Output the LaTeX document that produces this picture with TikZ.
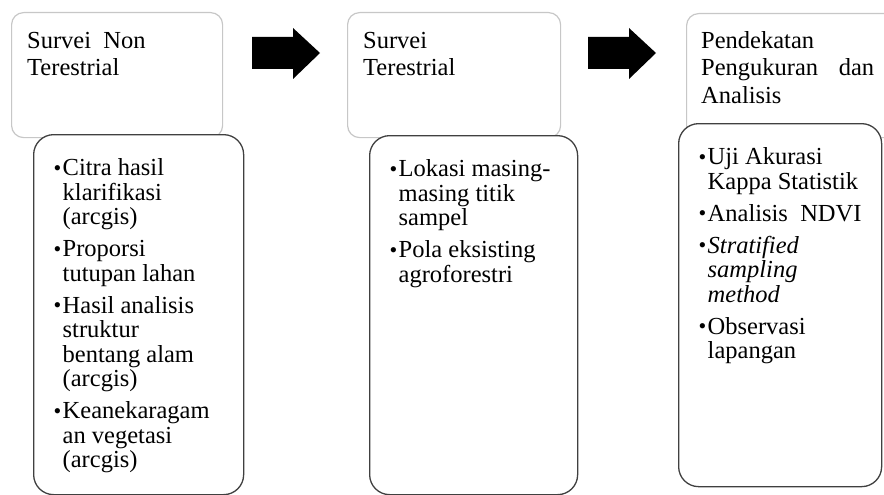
\documentclass[tikz,border=0pt]{standalone}
\usepackage{fontspec}
\setmainfont{Liberation Serif}
\usetikzlibrary{positioning}
\newcommand{\bul}{\makebox[7.5pt][l]{\hspace*{-1.5pt}\raisebox{0.5pt}{\fontsize{22}{22}\selectfont •}}}
\begin{document}
\begin{tikzpicture}[x=1pt,y=-1pt,
	topbox/.style={draw=black!22,line width=1.2pt,rounded corners=12pt,fill=white,inner sep=0pt,anchor=north west},
	subbox/.style={draw=black!75,line width=1.3pt,rounded corners=20pt,fill=white,inner sep=0pt,anchor=north west},
	headtxt/.style={inner sep=0pt,anchor=north west,font=\fontsize{24.5}{27.5}\selectfont},
	listtxt/.style={inner sep=0pt,anchor=north west,font=\fontsize{24.5}{24.5}\selectfont}]
	\clip (0,0) rectangle (884,495);
	% kotak atas
	\node[topbox,minimum width=211pt,minimum height=125pt] (nonter) at (11,12) {};
	\node[topbox,minimum width=213pt,minimum height=125pt] (ter) at (347,12) {};
	\node[topbox,minimum width=214pt,minimum height=124pt] (ukur) at (686,13) {};
	% panah
	\foreach \x in {252,588}
	\fill (\x,37) -- ++(41,0) -- ++(0,-9) -- ++(27,25) -- ++(-27,26) -- ++(0,-10) -- ++(-41,0) -- cycle;
	% kotak bawah
	\node[subbox,minimum width=210pt,minimum height=360pt] (nonterlist) at (33,134) {};
	\node[subbox,minimum width=208pt,minimum height=359pt] (terlist) at (369,135) {};
	\node[subbox,minimum width=203pt,minimum height=363pt] (ukurlist) at (678,123) {};
	% judul
	\node[headtxt] (nontertxt) at ([xshift=16pt,yshift=-16.75pt]nonter.north west) {\begin{tabular}{@{}l@{}}Survei\ \ Non\\Terestrial\end{tabular}};
	\node[headtxt] (tertxt) at ([xshift=16pt,yshift=-16.75pt]ter.north west) {\begin{tabular}{@{}l@{}}Survei\\Terestrial\end{tabular}};
	\node[headtxt] (ukurtxt) at ([xshift=15pt,yshift=-15.75pt]ukur.north west) {\begin{tabular}{@{}p{173pt}@{}}Pendekatan\\Pengukuran\hfill dan\\Analisis\end{tabular}};
	% isi
	\node[listtxt] (nonteritem) at ([xshift=22pt,yshift=-24.5pt]nonterlist.north west) {\begin{tabular}{@{}l@{}l@{}}
		\bul & Citra hasil\\ & klarifikasi\\ & (arcgis)\\[7.5pt]
		\bul & Proporsi\\ & tutupan lahan\\[7.5pt]
		\bul & Hasil analisis\\ & struktur\\ & bentang alam\\ & (arcgis)\\[7.5pt]
		\bul & Keanekaragam\\ & an vegetasi\\ & (arcgis)
	\end{tabular}};
	\node[listtxt] (teritem) at ([xshift=22pt,yshift=-24.5pt]terlist.north west) {\begin{tabular}{@{}l@{}l@{}}
		\bul & Lokasi masing-\\ & masing titik\\ & sampel\\[7.5pt]
		\bul & Pola eksisting\\ & agroforestri
	\end{tabular}};
	\node[listtxt] (ukuritem) at ([xshift=22pt,yshift=-24.5pt]ukurlist.north west) {\begin{tabular}{@{}l@{}l@{}}
		\bul & Uji Akurasi\\ & Kappa Statistik\\[7.5pt]
		\bul & Analisis\ \ NDVI\\[7.5pt]
		\bul & \textit{Stratified}\\ & \textit{sampling}\\ & \textit{method}\\[7.5pt]
		\bul & Observasi\\ & lapangan
	\end{tabular}};
\end{tikzpicture}
\end{document}
